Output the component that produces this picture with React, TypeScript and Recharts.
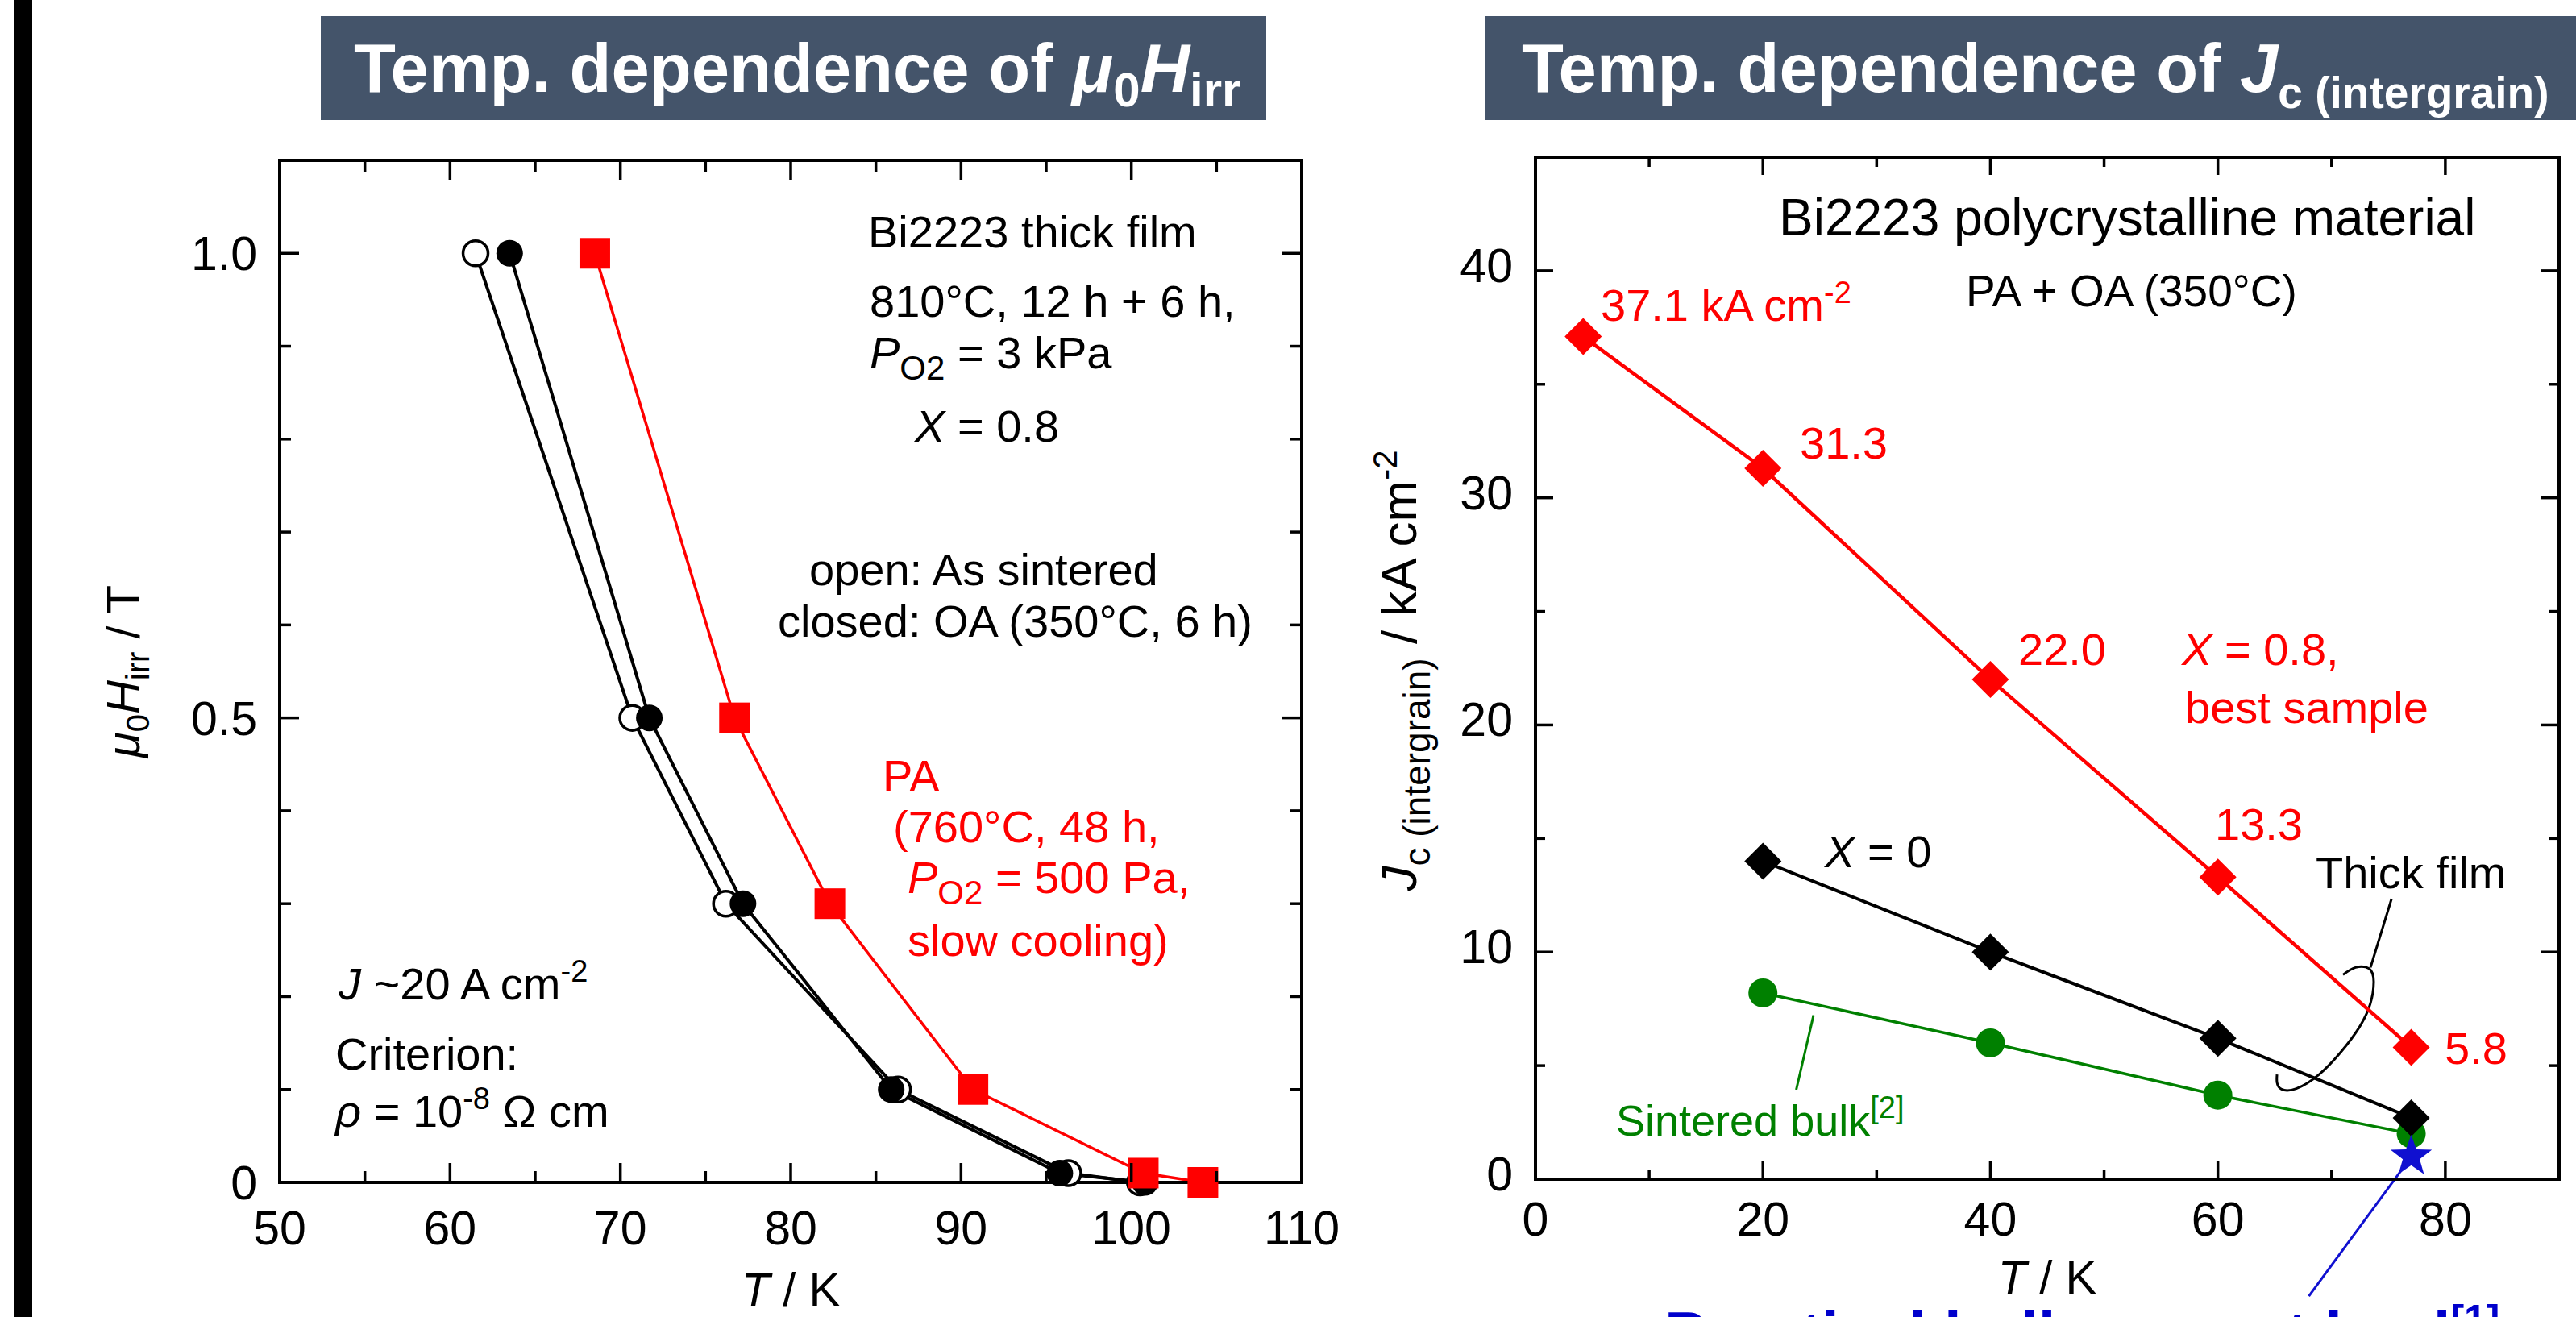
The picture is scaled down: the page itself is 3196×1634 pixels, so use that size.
import React from 'react';
import { ComposedChart, Line, XAxis, YAxis, ReferenceLine } from 'recharts';

const FONT = '"Liberation Sans", Arial, Helvetica, sans-serif';

// ---------- Left chart data: mu0 Hirr vs T ----------
const openT = [61.5, 70.7, 76.2, 86.3, 96.3, 100.5];
const openH = [1.0, 0.5, 0.3, 0.1, 0.01, 0];
const closedT = [63.5, 71.7, 77.2, 85.9, 95.8, 100.8];
const closedH = [1.0, 0.5, 0.3, 0.1, 0.01, 0];
const paT = [68.5, 76.7, 82.3, 90.7, 100.7, 104.2];
const paH = [1.0, 0.5, 0.3, 0.1, 0.01, 0];

const leftXTicks = [50, 55, 60, 65, 70, 75, 80, 85, 90, 95, 100, 105, 110];
const leftXMajors = [50, 60, 70, 80, 90, 100, 110];
const leftXLabels = ['50', '60', '70', '80', '90', '100', '110'];
const leftYTicks = [0, 0.1, 0.2, 0.3, 0.4, 0.5, 0.6, 0.7, 0.8, 0.9, 1.0];
const leftYMajors = [0, 0.5, 1.0];
const leftYLabels = ['0', '0.5', '1.0'];

// ---------- Right chart data: Jc vs T ----------
const redT = [4.2, 20, 40, 60, 77];
const redJ = [37.1, 31.3, 22.0, 13.3, 5.8];
const blackT = [20, 40, 60, 77];
const blackJ = [14.0, 10.0, 6.2, 2.7];
const greenT = [20, 40, 60, 77];
const greenJ = [8.2, 6.0, 3.7, 2.0];
const starT = [77];
const starJ = [1.0];

// annotation curve (brace for "Thick film") in data coordinates
const braceX = [71.0, 72.1, 73.3, 73.7, 73.4, 72.4, 70.8, 68.9, 66.9, 65.6, 65.2, 65.2];
const braceY = [9.0, 9.32, 9.27, 8.7, 7.72, 6.66, 5.59, 4.61, 3.99, 3.96, 4.26, 4.61];

const rightXTicks = [0, 10, 20, 30, 40, 50, 60, 70, 80, 90];
const rightXMajors = [0, 20, 40, 60, 80];
const rightXLabels = ['0', '20', '40', '60', '80'];
const rightYTicks = [0, 5, 10, 15, 20, 25, 30, 35, 40, 45];
const rightYMajors = [0, 10, 20, 30, 40];
const rightYLabels = ['0', '10', '20', '30', '40'];

const pts = (xs: number[], ys: number[]) => xs.map((x, i) => ({ x, y: ys[i] }));

type Side = 'left' | 'right' | 'top' | 'bottom';
function makeTick(side: Side, majors: number[], labels: string[] | null, majorLen: number, minorLen: number, labelOff: number, labelDy: number, fontSize: number) {
  return (props: any) => {
    const { x, y, payload } = props;
    const v = payload.value;
    const mi = majors.findIndex((m) => Math.abs(m - v) < 1e-9);
    const isMajor = mi >= 0;
    const len = isMajor ? majorLen : minorLen;
    let l: number[] = [x, y, x, y];
    if (side === 'left') l = [x, y, x + len, y];
    if (side === 'right') l = [x, y, x - len, y];
    if (side === 'bottom') l = [x, y, x, y - len];
    if (side === 'top') l = [x, y, x, y + len];
    let label = null;
    if (labels && isMajor) {
      if (side === 'left') {
        label = (
          <text x={x - labelOff} y={y + labelDy} textAnchor="end" fontSize={fontSize} fontFamily={FONT} fill="#000">
            {labels[mi]}
          </text>
        );
      } else if (side === 'bottom') {
        label = (
          <text x={x} y={y + labelOff} textAnchor="middle" fontSize={fontSize} fontFamily={FONT} fill="#000">
            {labels[mi]}
          </text>
        );
      }
    }
    return (
      <g>
        <line x1={l[0]} y1={l[1]} x2={l[2]} y2={l[3]} stroke="#000" strokeWidth={3.5} />
        {label}
      </g>
    );
  };
}

const axisLineStyle = { stroke: '#000', strokeWidth: 4, strokeLinecap: 'square' as const };

const OpenDot = (p: any) =>
  p.cx == null ? <g key={`o${p.index}`} /> : <circle key={`o${p.index}`} cx={p.cx} cy={p.cy} r={15.5} fill="#fff" stroke="#000" strokeWidth={3.5} />;
const ClosedDot = (p: any) =>
  p.cx == null ? <g key={`c${p.index}`} /> : <circle key={`c${p.index}`} cx={p.cx} cy={p.cy} r={16.5} fill="#000" />;
const SquareDot = (p: any) =>
  p.cx == null ? <g key={`s${p.index}`} /> : <rect key={`s${p.index}`} x={p.cx - 19} y={p.cy - 19} width={38} height={38} fill="#ff0000" />;
const diamond = (color: string, r: number, pre: string) => (p: any) =>
  p.cx == null ? (
    <g key={`${pre}${p.index}`} />
  ) : (
    <polygon key={`${pre}${p.index}`} points={`${p.cx},${p.cy - r} ${p.cx + r},${p.cy} ${p.cx},${p.cy + r} ${p.cx - r},${p.cy}`} fill={color} />
  );
const GreenDot = (p: any) =>
  p.cx == null ? <g key={`g${p.index}`} /> : <circle key={`g${p.index}`} cx={p.cx} cy={p.cy} r={18} fill="#008000" />;
const StarDot = (p: any) => {
  if (p.cx == null) return <g key={`st${p.index}`} />;
  const R = 27, r = 11;
  const arr: string[] = [];
  for (let i = 0; i < 10; i++) {
    const a = -Math.PI / 2 + (i * Math.PI) / 5;
    const rad = i % 2 === 0 ? R : r;
    arr.push(`${p.cx + rad * Math.cos(a)},${p.cy + rad * Math.sin(a)}`);
  }
  return <polygon key={`st${p.index}`} points={arr.join(' ')} fill="#1010d0" />;
};

function LeftChart() {
  return (
    <ComposedChart width={1700} height={1634} margin={{ top: 198, left: 346, right: 84, bottom: 166 }}>
      <XAxis xAxisId="b" type="number" dataKey="x" domain={[50, 110]} ticks={leftXTicks} interval={0} height={1}
        tickSize={0} tickMargin={0} tickLine={false} axisLine={axisLineStyle}
        tick={makeTick('bottom', leftXMajors, leftXLabels, 24, 14, 77, 0, 59)} />
      <XAxis xAxisId="t" orientation="top" type="number" dataKey="x" domain={[50, 110]} allowDataOverflow ticks={leftXTicks} interval={0} height={1}
        tickSize={0} tickMargin={0} tickLine={false} axisLine={axisLineStyle}
        tick={makeTick('top', leftXMajors, null, 24, 14, 0, 0, 59)} />
      <YAxis yAxisId="l" type="number" domain={[0, 1.1]} ticks={leftYTicks} interval={0} width={1}
        tickSize={0} tickMargin={0} tickLine={false} axisLine={axisLineStyle}
        tick={makeTick('left', leftYMajors, leftYLabels, 24, 14, 28, 21, 59)} />
      <YAxis yAxisId="r" orientation="right" type="number" domain={[0, 1.1]} allowDataOverflow ticks={leftYTicks} interval={0} width={1}
        tickSize={0} tickMargin={0} tickLine={false} axisLine={axisLineStyle}
        tick={makeTick('right', leftYMajors, null, 24, 14, 0, 0, 59)} />
      <Line xAxisId="b" yAxisId="l" data={pts(openT, openH)} dataKey="y" type="linear" stroke="#000" strokeWidth={4} dot={OpenDot} activeDot={false} isAnimationActive={false} />
      <Line xAxisId="b" yAxisId="l" data={pts(closedT, closedH)} dataKey="y" type="linear" stroke="#000" strokeWidth={4} dot={ClosedDot} activeDot={false} isAnimationActive={false} />
      <Line xAxisId="b" yAxisId="l" data={pts(paT, paH)} dataKey="y" type="linear" stroke="#ff0000" strokeWidth={3.5} dot={SquareDot} activeDot={false} isAnimationActive={false} />
    </ComposedChart>
  );
}

function RightChart() {
  return (
    <ComposedChart width={1496} height={1634} margin={{ top: 194, left: 204, right: 20, bottom: 170 }}>
      <XAxis xAxisId="b" type="number" dataKey="x" domain={[0, 90]} ticks={rightXTicks} interval={0} height={1}
        tickSize={0} tickMargin={0} tickLine={false} axisLine={axisLineStyle}
        tick={makeTick('bottom', rightXMajors, rightXLabels, 22, 12, 70, 0, 59)} />
      <XAxis xAxisId="t" orientation="top" type="number" dataKey="x" domain={[0, 90]} allowDataOverflow ticks={rightXTicks} interval={0} height={1}
        tickSize={0} tickMargin={0} tickLine={false} axisLine={axisLineStyle}
        tick={makeTick('top', rightXMajors, null, 22, 12, 0, 0, 59)} />
      <YAxis yAxisId="l" type="number" domain={[0, 45]} ticks={rightYTicks} interval={0} width={1}
        tickSize={0} tickMargin={0} tickLine={false} axisLine={axisLineStyle}
        tick={makeTick('left', rightYMajors, rightYLabels, 22, 12, 28, 14, 59)} />
      <YAxis yAxisId="r" orientation="right" type="number" domain={[0, 45]} allowDataOverflow ticks={rightYTicks} interval={0} width={1}
        tickSize={0} tickMargin={0} tickLine={false} axisLine={axisLineStyle}
        tick={makeTick('right', rightYMajors, null, 22, 12, 0, 0, 59)} />
      <ReferenceLine xAxisId="b" yAxisId="l" segment={[{ x: 24.45, y: 7.22 }, { x: 22.93, y: 3.94 }]} stroke="#008000" strokeWidth={3} ifOverflow="visible" />
      <ReferenceLine xAxisId="b" yAxisId="l" segment={[{ x: 75.27, y: 12.34 }, { x: 73.42, y: 9.32 }]} stroke="#000" strokeWidth={3} ifOverflow="visible" />
      <ReferenceLine xAxisId="b" yAxisId="l" segment={[{ x: 76.33, y: 0.53 }, { x: 68.0, y: -5.15 }]} stroke="#1010d0" strokeWidth={3} ifOverflow="visible" />
      <Line xAxisId="b" yAxisId="l" data={pts(braceX, braceY)} dataKey="y" type="natural" stroke="#000" strokeWidth={3} dot={false} activeDot={false} isAnimationActive={false} />
      <Line xAxisId="b" yAxisId="l" data={pts(greenT, greenJ)} dataKey="y" type="linear" stroke="#008000" strokeWidth={3.5} dot={GreenDot} activeDot={false} isAnimationActive={false} />
      <Line xAxisId="b" yAxisId="l" data={pts(blackT, blackJ)} dataKey="y" type="linear" stroke="#000" strokeWidth={4} dot={diamond('#000', 23, 'k')} activeDot={false} isAnimationActive={false} />
      <Line xAxisId="b" yAxisId="l" data={pts(redT, redJ)} dataKey="y" type="linear" stroke="#ff0000" strokeWidth={4.5} dot={diamond('#ff0000', 23, 'r')} activeDot={false} isAnimationActive={false} />
      <Line xAxisId="b" yAxisId="l" data={pts(starT, starJ)} dataKey="y" type="linear" stroke="#1010d0" strokeWidth={0} dot={StarDot} activeDot={false} isAnimationActive={false} />
    </ComposedChart>
  );
}

const Txt = ({ x, y, size = 56, fill = '#000', anchor = 'start', weight = 'normal', children }: any) => (
  <text x={x} y={y} fontSize={size} fill={fill} fontFamily={FONT} textAnchor={anchor} fontWeight={weight} style={{ whiteSpace: 'pre' }}>
    {children}
  </text>
);

function Overlay() {
  const red = '#ff0000';
  return (
    <svg width={3196} height={1634} style={{ position: 'absolute', left: 0, top: 0, pointerEvents: 'none' }}>
      {/* left black bar */}
      <rect x={17} y={0} width={23} height={1634} fill="#000" />
      {/* titles */}
      <rect x={398} y={20} width={1173} height={129} fill="#44546A" />
      <rect x={1842} y={20} width={1354} height={129} fill="#44546A" />
      <Txt x={439} y={114} size={85} fill="#fff" weight="bold">
        {'Temp. dependence of '}
        <tspan fontStyle="italic">μ</tspan>
        <tspan fontSize={60} dy={18}>0</tspan>
        <tspan fontStyle="italic" dy={-18}>H</tspan>
        <tspan fontSize={60} dy={18}>irr</tspan>
      </Txt>
      <Txt x={1888} y={114} size={85} fill="#fff" weight="bold">
        {'Temp. dependence of '}
        <tspan fontStyle="italic">J</tspan>
        <tspan fontSize={55} dy={20}>{'c (intergrain)'}</tspan>
      </Txt>

      {/* left chart axis titles */}
      <text transform="translate(173,833) rotate(-90)" textAnchor="middle" fontSize={58} fontFamily={FONT} fill="#000" style={{ whiteSpace: 'pre' }}>
        <tspan fontStyle="italic">μ</tspan>
        <tspan fontSize={40} dy={12}>0</tspan>
        <tspan fontStyle="italic" dy={-12}>H</tspan>
        <tspan fontSize={40} dy={12}>irr</tspan>
        <tspan dy={-12}>{' / T'}</tspan>
      </text>
      <Txt x={981} y={1620} size={58} anchor="middle">
        <tspan fontStyle="italic">T</tspan>
        {' / K'}
      </Txt>

      {/* left annotations */}
      <Txt x={1077} y={307}>Bi2223 thick film</Txt>
      <Txt x={1079} y={393}>810°C, 12 h + 6 h,</Txt>
      <Txt x={1079} y={457}>
        <tspan fontStyle="italic">P</tspan>
        <tspan fontSize={42} dy={14}>O2</tspan>
        <tspan dy={-14}>{' = 3 kPa'}</tspan>
      </Txt>
      <Txt x={1135} y={548}>
        <tspan fontStyle="italic">X</tspan>
        {' = 0.8'}
      </Txt>
      <Txt x={1004} y={726}>open: As sintered</Txt>
      <Txt x={965} y={790}>closed: OA (350°C, 6 h)</Txt>
      <Txt x={1095} y={982} fill={red}>PA</Txt>
      <Txt x={1108} y={1045} fill={red}>(760°C, 48 h,</Txt>
      <Txt x={1126} y={1108} fill={red}>
        <tspan fontStyle="italic">P</tspan>
        <tspan fontSize={42} dy={14}>O2</tspan>
        <tspan dy={-14}>{' = 500 Pa,'}</tspan>
      </Txt>
      <Txt x={1126} y={1186} fill={red}>slow cooling)</Txt>
      <Txt x={420} y={1240}>
        <tspan fontStyle="italic">J</tspan>
        {' ~20 A cm'}
        <tspan fontSize={38} dy={-22}>-2</tspan>
      </Txt>
      <Txt x={416} y={1327}>Criterion:</Txt>
      <Txt x={416} y={1398}>
        <tspan fontStyle="italic">ρ</tspan>
        {' = 10'}
        <tspan fontSize={38} dy={-22}>-8</tspan>
        <tspan dy={22}>{' Ω cm'}</tspan>
      </Txt>

      {/* right chart axis titles */}
      <text transform="translate(1757,832) rotate(-90)" textAnchor="middle" fontSize={62} fontFamily={FONT} fill="#000" style={{ whiteSpace: 'pre' }}>
        <tspan fontStyle="italic">J</tspan>
        <tspan fontSize={46} dy={17}>{'c (intergrain)'}</tspan>
        <tspan dy={-17}>{' / kA cm'}</tspan>
        <tspan fontSize={42} dy={-24}>-2</tspan>
      </text>
      <Txt x={2540} y={1605} size={58} anchor="middle">
        <tspan fontStyle="italic">T</tspan>
        {' / K'}
      </Txt>

      {/* right annotations */}
      <Txt x={2207} y={292} size={64}>Bi2223 polycrystalline material</Txt>
      <Txt x={2439} y={380} size={55}>PA + OA (350°C)</Txt>
      <Txt x={1986} y={398} fill={red}>
        {'37.1 kA cm'}
        <tspan fontSize={38} dy={-22}>-2</tspan>
      </Txt>
      <Txt x={2233} y={569} fill={red}>31.3</Txt>
      <Txt x={2504} y={825} fill={red}>22.0</Txt>
      <Txt x={2707} y={825} fill={red}>
        <tspan fontStyle="italic">X</tspan>
        {' = 0.8,'}
      </Txt>
      <Txt x={2711} y={897} fill={red}>best sample</Txt>
      <Txt x={2748} y={1042} fill={red}>13.3</Txt>
      <Txt x={2873} y={1102}>Thick film</Txt>
      <Txt x={3033} y={1320} fill={red}>5.8</Txt>
      <Txt x={2264} y={1076}>
        <tspan fontStyle="italic">X</tspan>
        {' = 0'}
      </Txt>
      <Txt x={2005} y={1409} size={54} fill="#008000">
        {'Sintered bulk'}
        <tspan fontSize={38} dy={-22}>[2]</tspan>
      </Txt>
      <Txt x={2065} y={1682} size={78} fill="#0000cc" weight="bold">
        {'Practical bulk current lead'}
        <tspan fontSize={50} dy={-28}>[1]</tspan>
      </Txt>
    </svg>
  );
}

export default function App() {
  return (
    <div style={{ position: 'fixed', left: 0, top: 0, width: 3196, height: 1634, overflow: 'hidden', background: '#fff', fontFamily: FONT }}>
      <div style={{ position: 'absolute', left: 0, top: 0, width: 1700, height: 1634 }}>
        <LeftChart />
      </div>
      <div style={{ position: 'absolute', left: 1700, top: 0, width: 1496, height: 1634 }}>
        <RightChart />
      </div>
      <Overlay />
    </div>
  );
}
